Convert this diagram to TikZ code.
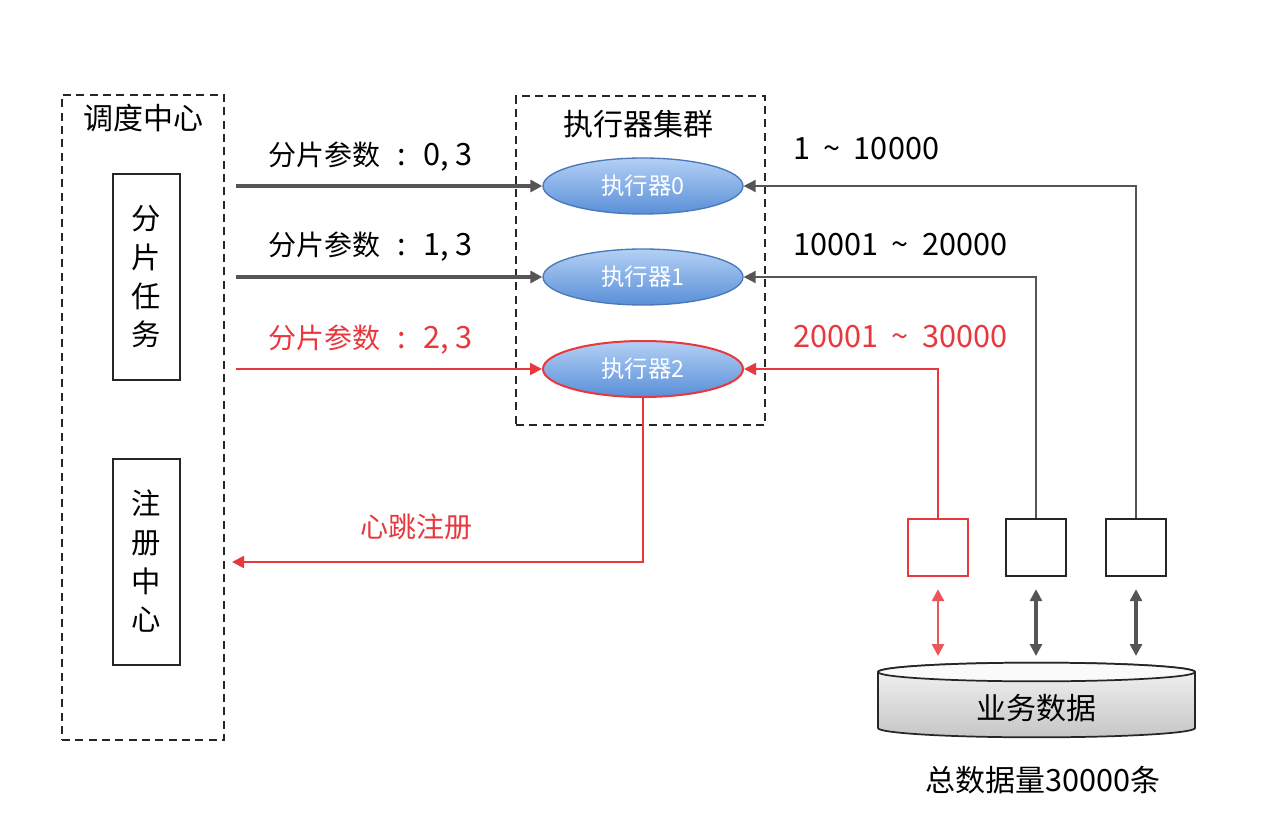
\documentclass[tikz,border=0pt]{standalone}
\usepackage{fontspec}
\setmainfont{Noto Sans CJK SC}
\usetikzlibrary{arrows.meta,shapes.geometric}
\definecolor{myred}{HTML}{E8383D}
\definecolor{mygray}{HTML}{555555}
\definecolor{elltop}{HTML}{B3D0F5}
\definecolor{ellbot}{HTML}{5A8FD8}
\definecolor{ellborder}{HTML}{4A78B8}
\newcommand\latnum[1]{{\fontsize{23pt}{26pt}\selectfont #1}}
\newcommand\sepcolon{\hspace{13pt}\latnum{:}\hspace{13pt}}
\newcommand\tildesep{\hspace{10pt}\char"007E\hspace{10pt}}
\tikzset{
  dashbox/.style={draw=black!85, line width=1.5pt, dash pattern=on 6pt off 4pt},
  solidbox/.style={draw=black!85, line width=1.5pt, fill=white},
  exec/.style={ellipse, minimum width=150pt, minimum height=42pt, top color=elltop, bottom color=ellbot,
    draw=ellborder, line width=1pt, text=white, font=\fontsize{17.5pt}{20pt}\selectfont},
  lbl/.style={font=\fontsize{21pt}{24pt}\selectfont, inner sep=0pt},
  ttl/.style={font=\fontsize{22.5pt}{25pt}\selectfont, inner sep=0pt},
  vtext/.style={align=center, font=\fontsize{22pt}{29pt}\selectfont},
  grayarrow/.style={draw=mygray, line width=2.4pt, -{Triangle[length=9pt,width=9pt]}},
  redarrow/.style={draw=myred, line width=1.5pt, -{Triangle[length=9pt,width=9pt]}},
  thinarrow/.style={draw=mygray, line width=1.5pt, -{Triangle[length=9pt,width=9pt]}},
  dblgray/.style={draw=mygray, line width=2.4pt, {Triangle[length=9pt,width=9pt]}-{Triangle[length=9pt,width=9pt]}},
  dblred/.style={draw=myred!85!white, line width=2pt, {Triangle[length=9pt,width=9pt]}-{Triangle[length=9pt,width=9pt]}},
  smallbox/.style={draw=black!85, line width=1.5pt, minimum width=45pt, minimum height=43pt, inner sep=0pt},
}
\begin{document}
\begin{tikzpicture}[x=0.75pt,y=-0.75pt]
\useasboundingbox[fill=white] (0,0) rectangle (1288,838);

% scheduler group
\node[dashbox, minimum width=121.5pt, minimum height=483.75pt, inner sep=0pt] (sched) at (143,417.5) {};
\node[ttl] (schedt) at (143,118) {调度中心};
\node[solidbox, minimum width=50pt, minimum height=154.5pt, inner sep=0pt, vtext] (task) at (146.5,277) {分\\片\\任\\务};
\node[solidbox, minimum width=50pt, minimum height=154.5pt, inner sep=0pt, vtext] (reg) at (146.5,561.5) {注\\册\\中\\心};

% executor group
\node[dashbox, minimum width=186.75pt, minimum height=246.75pt, inner sep=0pt] (grp) at (640.5,260.5) {};
\node[ttl] (grpt) at (638,124) {执行器集群};
\node[exec] (e0) at (643,186) {执行器0};
\node[exec] (e1) at (643,277) {执行器1};
\node[exec, draw=myred, line width=1.5pt] (e2) at (643,369) {执行器2};

% left arrows
\coordinate (s0) at (236,186);
\coordinate (s1) at (236,277);
\coordinate (s2) at (236,369);
\draw[grayarrow] (s0) -- (e0.west);
\draw[grayarrow] (s1) -- (e1.west);
\draw[redarrow] (s2) -- (e2.west);
\node[lbl, anchor=west] (p0) at (268,157) {分片参数\sepcolon\latnum{0, 3}};
\node[lbl, anchor=west] (p1) at (268,247) {分片参数\sepcolon\latnum{1, 3}};
\node[lbl, anchor=west, text=myred] (p2) at (268,340) {分片参数\sepcolon\latnum{2, 3}};

% data boxes
\node[smallbox, draw=myred] (b2) at (938,547.5) {};
\node[smallbox] (b1) at (1036,547.5) {};
\node[smallbox] (b0) at (1136,547.5) {};
\draw[thinarrow] (b0.north) |- (e0.east);
\draw[thinarrow] (b1.north) |- (e1.east);
\draw[redarrow] (b2.north) |- (e2.east);
\node[lbl, anchor=west] (r0) at (793,149) {\latnum{1\tildesep 10000}};
\node[lbl, anchor=west] (r1) at (793,245) {\latnum{10001\tildesep 20000}};
\node[lbl, anchor=west, text=myred] (r2) at (793,337) {\latnum{20001\tildesep 30000}};

% heartbeat
\coordinate (hb) at (232,562);
\draw[redarrow] (e2.south) |- (hb);
\node[lbl, text=myred] (hbt) at (416,527) {心跳注册};

% database cylinder
\path[draw=black!85, line width=1.3pt, top color=gray!8, bottom color=gray!45]
  (878,672) -- (878,728) arc[start angle=180, end angle=360, x radius=118.875pt, y radius=7pt]
  -- (1195,672) arc[start angle=0, end angle=180, x radius=118.875pt, y radius=7pt] -- cycle;
\draw[draw=black!85, line width=1.3pt, fill=gray!4] (1036.5,672) ellipse[x radius=118.875pt, y radius=7pt];
\node[ttl] (db) at (1036,708) {业务数据};
\node[ttl] (total) at (1043,780) {总数据量\latnum{30000}条};

\coordinate (t2) at (938,656);
\coordinate (t1) at (1036,656);
\coordinate (t0) at (1136,656);
\draw[dblred] ([yshift=-9pt]b2.south) -- (t2);
\draw[dblgray] ([yshift=-9pt]b1.south) -- (t1);
\draw[dblgray] ([yshift=-9pt]b0.south) -- (t0);
\end{tikzpicture}
\end{document}
